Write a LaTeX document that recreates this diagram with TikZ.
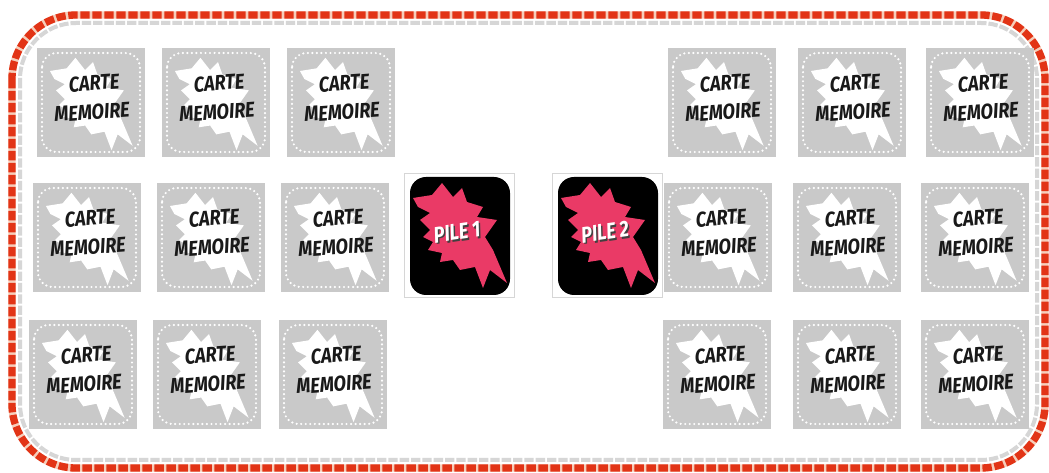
\documentclass[tikz,border=0pt]{standalone}
\usepackage{fontspec}
\usepackage{xcolor}
\usepackage{tikz}
\newfontfamily\bdfont{Fira Sans}
\definecolor{cartegris}{RGB}{201,201,201}
\definecolor{rougebord}{RGB}{226,52,22}
\definecolor{pailebord}{RGB}{246,206,186}
\definecolor{griscadre}{RGB}{214,214,214}
\definecolor{roseeclat}{RGB}{234,58,102}
% contour of the burst, in local px (y downwards)
\newcommand\eclat{(9,25) -- (28,22) -- (38,10) -- (49,24) -- (58,15) -- (63,29) -- (79,34) -- (73,44) -- (93,47) -- (81,64) -- (89,77) -- (103,110) -- (86,97) -- (79,115) -- (71,94) -- (56,97) -- (49,87) -- (36,89) -- (38,80) -- (24,77) -- (29,69) -- (19,64) -- (26,57) -- (16,47) -- (26,40) -- (14,34) -- cycle}

\begin{document}
\begin{tikzpicture}[x=0.75pt,y=-0.75pt,
 motcarte/.style={font=\bdfont\bfseries\itshape\fontsize{16}{16}\selectfont,text=black!90,inner sep=0pt,rotate=4,xscale=0.85,transform shape},
 motpile/.style={font=\bdfont\bfseries\itshape\fontsize{17}{17}\selectfont,text=white,inner sep=0pt,rotate=8,xscale=0.8,transform shape},
 pointille/.style={white,line width=1.8pt,line cap=round,dash pattern=on 0pt off 3.4pt,rounded corners=11pt},
 carte/.pic={
  \fill[cartegris](0,0)rectangle(108,109);
  \draw[pointille](5,5)rectangle(103,104);
  \fill[white,shift={(5,1)},scale=0.88]\eclat;
  \node[motcarte](-haut)at(57,35){CARTE};
  \node[motcarte](-bas)at(55,64){MEMOIRE};
 },
 pile/.pic={
  \draw[griscadre,line width=0.6pt](0,0)rectangle(110,124);
  \fill[black,rounded corners=12pt](6,4)rectangle(106,122);
  \fill[roseeclat]\eclat;
  \node[motpile,text=black!75](-ombre)at(54.5,60.5){\tikzpictext};
  \node[motpile](-texte)at(53,59){\tikzpictext};
 }]
\useasboundingbox(0,0)rectangle(1049,473);
\fill[white](0,0)rectangle(1049,473);
\draw[pailebord,line width=5.5pt,rounded corners=48pt](12,15)rectangle(1045,468);
\draw[rougebord,line width=5.5pt,rounded corners=48pt,dash pattern=on 7pt off 2pt](12,15)rectangle(1045,468);
\draw[griscadre,line width=3pt,rounded corners=42pt,dash pattern=on 7pt off 1.5pt](20,23)rectangle(1037,460);
\foreach \x/\y [count=\i] in {37/48,162/48,287/48,668/48,798/48,926/48,
 33/183,157/183,281/183,664/183,793/183,921/183,
 29/320,153/320,279/320,663/320,793/320,921/320}
 \pic(c\i)at(\x,\y){carte};
\pic[pic text={PILE 1}](p1)at(404,173){pile};
\pic[pic text={PILE 2}](p2)at(552,173){pile};
\end{tikzpicture}
\end{document}
